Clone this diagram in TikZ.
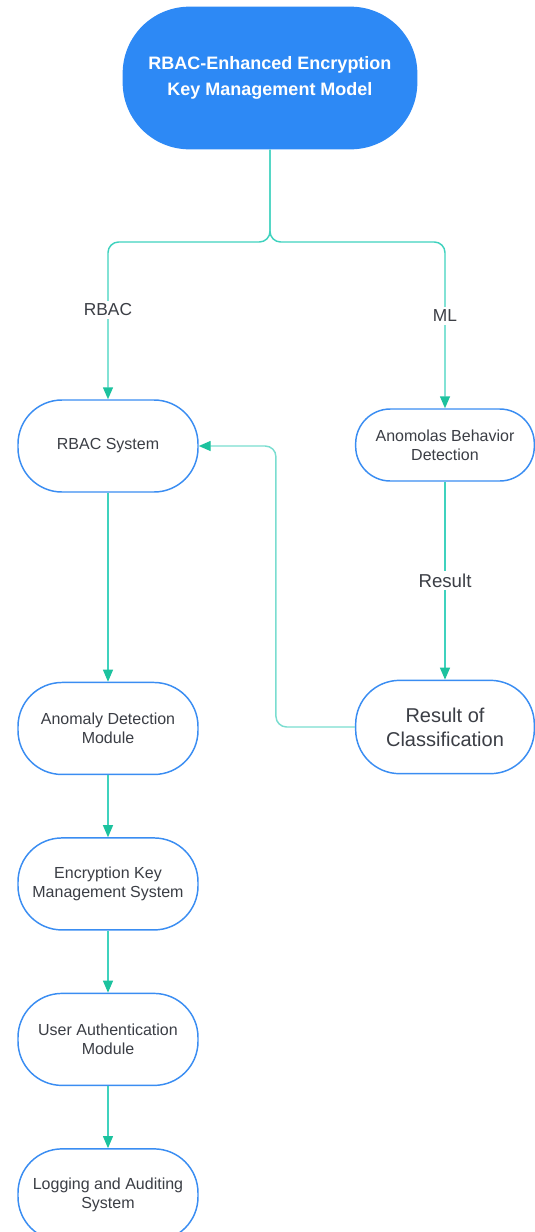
\documentclass[tikz,border=0pt]{standalone}
\usepackage{fontspec}
\setmainfont{Liberation Sans}
\usetikzlibrary{arrows.meta,positioning}
\definecolor{headblue}{HTML}{2D89F5}
\definecolor{edgeblue}{HTML}{3A8DF2}
\definecolor{linkteal}{HTML}{3FD2BE}
\definecolor{tipteal}{HTML}{1CC29E}
\definecolor{backteal}{HTML}{7ADDD0}
\definecolor{txtgray}{HTML}{3B3E45}

\begin{document}
\begin{tikzpicture}[
  node distance=46.5pt,
  head/.style={fill=headblue, rounded corners=50pt, minimum width=221pt, minimum height=107pt, align=center, text=white, font=\bfseries\fontsize{13.5}{20}\selectfont},
  box/.style={draw=edgeblue, line width=1.1pt, rounded corners=33pt, minimum width=135pt, minimum height=69pt, align=center, text=txtgray, fill=white, font=\fontsize{12}{14.5}\selectfont},
  arr/.style={-{Triangle[length=9pt,width=7.5pt,color=tipteal]}, line width=1.1pt, draw=linkteal},
  thinarr/.style={arr, line width=0.8pt},
  back/.style={arr, draw=backteal, rounded corners=8pt},
  lbl/.style={fill=white, text=txtgray, inner sep=2pt, font=\fontsize{13}{15}\selectfont}
]
\useasboundingbox (0,0) rectangle (401.25pt,-924pt);

\node[head] (model) at (202.5pt,-58.5pt) {RBAC-Enhanced Encryption\\ Key Management Model};

% left column
\node[box] (rbac) at (81pt,-334.5pt) {RBAC System};
\node[box, below=141.75pt of rbac] (anomaly) {Anomaly Detection\\Module};
\node[box, below=of anomaly] (ekms) {Encryption Key\\Management System};
\node[box, below=of ekms] (auth) {User Authentication\\Module};
\node[box, below=of auth] (logging) {Logging and Auditing\\System};

% right column
\node[box, minimum width=134pt, minimum height=54pt, rounded corners=26pt] (behav) at (333.75pt,-333.75pt) {Anomolas Behavior\\Detection};
\node[box, minimum width=134pt, minimum height=70pt, font=\fontsize{15}{18}\selectfont] (result) at (333.75pt,-545.25pt) {Result of\\Classification};

% fork below the title
\coordinate (fork) at (202.5pt,-181.5pt);
\draw[arr, rounded corners=8pt] (model.south) -- (fork) -| (rbac.north);
\draw[arr, rounded corners=8pt] (model.south) -- (fork) -| (behav.north);
\node[lbl] (rbaclbl) at (81pt,-232.5pt) {RBAC};
\node[lbl] (mllbl) at (333.75pt,-237pt) {ML};

\draw[thinarr] (rbac) -- (anomaly);
\draw[thinarr] (anomaly) -- (ekms);
\draw[thinarr] (ekms) -- (auth);
\draw[thinarr] (auth) -- (logging);

\draw[arr] (behav) -- node[lbl, font=\fontsize{14}{16}\selectfont] (reslbl) {Result} (result);
\draw[back] (result.west) -- ++(-59.25pt,0) |- (rbac.east);
\end{tikzpicture}
\end{document}
